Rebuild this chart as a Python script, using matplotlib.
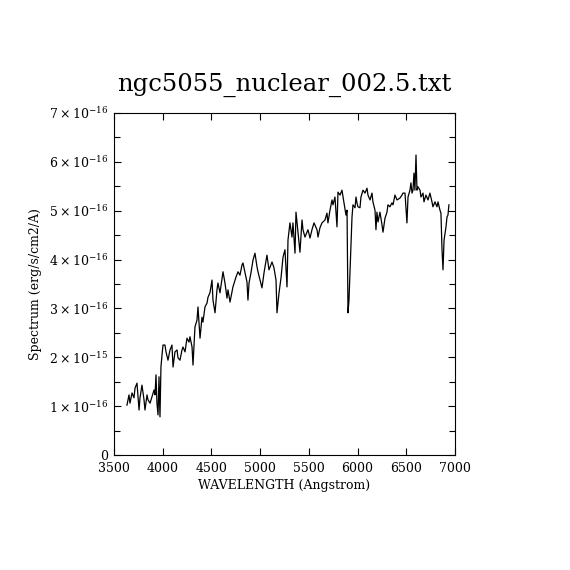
import matplotlib
matplotlib.use("Agg")
import matplotlib.pyplot as plt
from matplotlib.ticker import MultipleLocator, FixedLocator, FixedFormatter

plt.rcParams['font.family'] = ['DejaVu Serif']
plt.rcParams['mathtext.fontset'] = 'dejavuserif'

title = "ngc5055_nuclear_002.5.txt"
xlabel = "WAVELENGTH (Angstrom)"
ylabel = "Spectrum (erg/s/cm2/A)"

# wavelength (Angstrom)
wave = [3633, 3654, 3664, 3685, 3705, 3716, 3736, 3757, 3767, 3787, 3808, 3818, 3839, 3849,
        3870, 3890, 3911, 3921, 3931, 3941, 3952, 3962, 3972,
        3982, 3993, 4003, 4023, 4034, 4054, 4075, 4095, 4106, 4126, 4147, 4157, 4177, 4198,
        4208, 4229, 4249, 4270, 4280, 4301, 4311, 4331, 4352, 4362, 4383, 4403, 4413, 4434,
        4455, 4465, 4485, 4506, 4516, 4537, 4557, 4567, 4588, 4619, 4639, 4660, 4670, 4691,
        4711, 4721, 4752, 4773, 4793, 4814, 4824, 4845, 4865, 4875, 4886, 4906, 4927, 4947,
        4968, 4978, 4999, 5019, 5040, 5070, 5091, 5122, 5142, 5163, 5173, 5194, 5214, 5235,
        5255, 5276, 5286, 5306, 5327, 5337, 5358, 5368, 5389, 5409, 5430, 5440, 5460, 5491,
        5512, 5532, 5553, 5584, 5594, 5614, 5635, 5666, 5686, 5696, 5717, 5738, 5748, 5768,
        5789, 5799, 5820, 5840, 5861, 5881, 5892, 5902, 5912, 5922, 5943, 5953,
        5974, 5984, 5994, 6004, 6025, 6035, 6056, 6076, 6097, 6107, 6128, 6148, 6158, 6179,
        6189, 6199, 6210, 6230, 6251, 6261, 6282, 6302, 6312, 6333, 6353, 6364, 6384, 6405,
        6436, 6456, 6466, 6487, 6507, 6518, 6538, 6548, 6559, 6569, 6579, 6589, 6600, 6610,
        6620, 6641, 6651, 6672, 6682, 6702, 6723, 6743, 6764, 6774, 6795, 6815, 6826, 6846,
        6856, 6867, 6877, 6888, 6908, 6918, 6928, 6938]

# flux in units of 1e-16 erg/s/cm2/A
flux = [1.02, 1.23, 1.06, 1.27, 1.17, 1.37, 1.47, 0.92, 1.17, 1.43, 1.13, 0.92, 1.23, 1.13,
        1.06, 1.19, 1.33, 1.23, 1.64, 1.06, 0.82, 1.60, 0.78,
        1.80, 2.05, 2.25, 2.25, 2.11, 1.94, 2.15, 2.25, 1.80, 2.11, 2.15, 1.99, 1.94, 2.15,
        2.21, 2.11, 2.39, 2.31, 2.42, 2.21, 1.84, 2.62, 2.76, 3.03, 2.39, 2.82, 2.72, 3.03,
        3.11, 3.23, 3.32, 3.58, 3.17, 2.91, 3.38, 3.52, 3.32, 3.75, 3.52, 3.21, 3.38, 3.13,
        3.34, 3.44, 3.64, 3.75, 3.68, 3.89, 3.93, 3.73, 3.54, 3.17, 3.52, 3.73, 3.99, 4.13,
        3.85, 3.75, 3.58, 3.42, 3.73, 4.09, 3.79, 3.95, 3.83, 3.58, 2.91, 3.32, 3.62, 4.05,
        4.20, 3.44, 4.40, 4.75, 4.46, 4.75, 4.13, 4.97, 4.54, 4.15, 4.81, 4.61, 4.46, 4.61,
        4.44, 4.61, 4.75, 4.61, 4.46, 4.65, 4.75, 4.81, 4.95, 4.75, 5.01, 5.22, 5.12, 5.28,
        4.67, 5.38, 5.32, 5.42, 5.16, 4.91, 5.01, 2.91, 3.17, 3.73, 4.87, 5.12,
        5.06, 5.28, 5.16, 5.08, 5.06, 5.28, 5.42, 5.36, 5.46, 5.32, 5.22, 5.36, 5.18, 5.01,
        4.61, 4.97, 4.77, 4.97, 4.71, 4.56, 4.85, 4.97, 5.12, 5.08, 5.16, 5.12, 5.32, 5.22,
        5.26, 5.32, 5.36, 5.36, 4.75, 5.28, 5.42, 5.57, 5.36, 5.42, 5.77, 5.42, 6.14, 5.42,
        5.49, 5.42, 5.28, 5.36, 5.18, 5.32, 5.22, 5.36, 5.18, 5.08, 5.18, 5.08, 5.18, 5.01,
        4.95, 4.20, 3.79, 4.40, 4.67, 4.87, 4.91, 5.12]

xticks = [3500, 4000, 4500, 5000, 5500, 6000, 6500, 7000]
yticks = [0, 1, 2, 3, 4, 5, 6, 7]
ytick_labels = ["0", r"$1\times10^{-16}$", r"$2\times10^{-15}$", r"$3\times10^{-16}$",
                r"$4\times10^{-16}$", r"$5\times10^{-16}$", r"$6\times10^{-16}$",
                r"$7\times10^{-16}$"]

n = min(len(wave), len(flux))

fig = plt.figure(figsize=(5.7, 5.7), dpi=100)
ax = fig.add_axes([0.2, 0.2018, 0.5982, 0.6])
ax.plot(wave[:n], flux[:n], color='black', lw=0.9)

ax.set_xlim(3500, 7000)
ax.set_ylim(0, 7)
ax.xaxis.set_major_locator(FixedLocator(xticks))
ax.yaxis.set_major_locator(FixedLocator(yticks))
ax.yaxis.set_major_formatter(FixedFormatter(ytick_labels))
ax.yaxis.set_minor_locator(MultipleLocator(0.5))

ax.tick_params(which='both', direction='in', top=True, right=True, color='black')
ax.tick_params(which='major', length=5, width=0.8, labelsize=9)
ax.tick_params(which='minor', length=4, width=0.8)
ax.tick_params(axis='x', which='major', pad=5)
ax.tick_params(axis='y', which='major', pad=4)
for s in ax.spines.values():
    s.set_linewidth(0.8)

ax.set_xlabel(xlabel, fontsize=9, labelpad=3)
ax.set_ylabel(ylabel, fontsize=9, labelpad=5)
ax.set_title(title, fontsize=17.5, pad=16)

fig.savefig("out.png", dpi=100, facecolor='white')
